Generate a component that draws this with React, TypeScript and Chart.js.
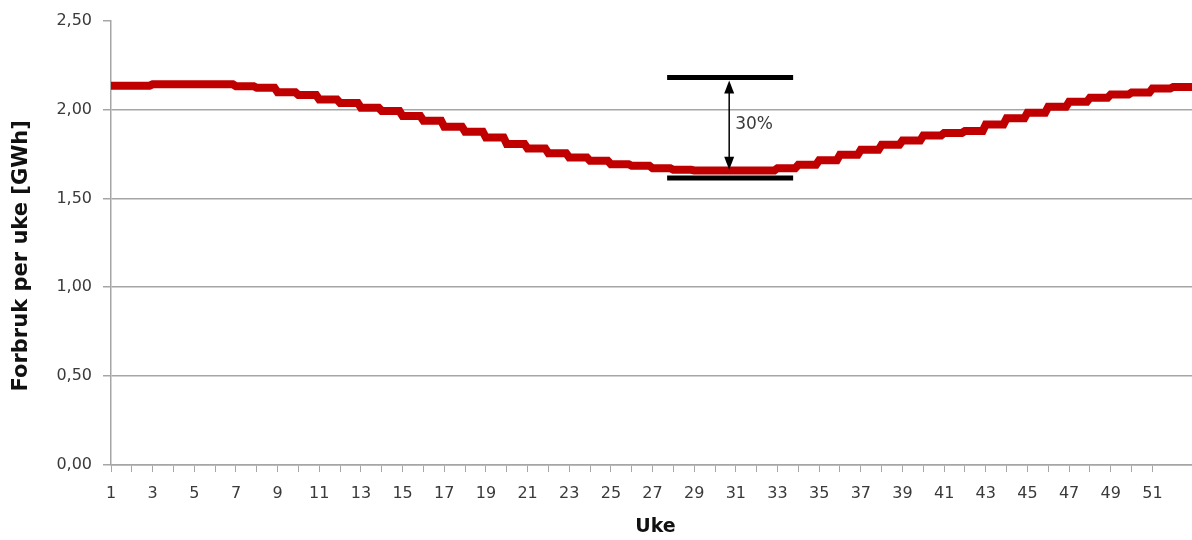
import React, { useEffect, useRef } from "react";
import { Chart, registerables } from "chart.js";

Chart.register(...registerables);

// Week numbers 1–52
const weeks = [
  1, 2, 3, 4, 5, 6, 7, 8, 9, 10, 11, 12, 13, 14, 15, 16, 17, 18, 19, 20, 21, 22, 23, 24, 25, 26,
  27, 28, 29, 30, 31, 32, 33, 34, 35, 36, 37, 38, 39, 40, 41, 42, 43, 44, 45, 46, 47, 48, 49, 50,
  51, 52,
];

// Weekly consumption [GWh]
const consumption = [
  2.134, 2.134, 2.142, 2.142, 2.142, 2.142, 2.131, 2.122, 2.097, 2.081,
  2.056, 2.037, 2.01, 1.991, 1.963, 1.937, 1.903, 1.875, 1.842, 1.806,
  1.78, 1.754, 1.73, 1.711, 1.692, 1.683, 1.67, 1.661, 1.657, 1.657,
  1.657, 1.657, 1.67, 1.689, 1.714, 1.745, 1.773, 1.801, 1.825, 1.853,
  1.868, 1.879, 1.916, 1.95, 1.982, 2.015, 2.043, 2.066, 2.084, 2.095,
  2.118, 2.127,
];

const xTitle = "Uke";
const yTitle = "Forbruk per uke [GWh]";

// Span marker: upper/lower bars, arrow and label
const spanTop = 2.18;
const spanBottom = 1.615;
const spanFromWeek = 27.7;
const spanToWeek = 33.75;
const arrowWeek = 30.68;
const arrowLow = 1.661;
const spanLabel = "30%";

const FONT = "'DejaVu Sans', Verdana, sans-serif";
const LINE_COLOR = "#C00000";
const GRID_COLOR = "#A6A6A6";
const TEXT_COLOR = "#3a3a3a";
const TITLE_COLOR = "#111";

// Each week is held flat for most of its width, then steps to the next week
const HOLD = 0.85;
const points = weeks.flatMap((w, i) => [
  { x: w, y: consumption[i] },
  { x: w + (i === weeks.length - 1 ? 1 : HOLD), y: consumption[i] },
]);

const spanPlugin = {
  id: "spanMarker",
  afterDatasetsDraw(chart: any) {
    const { ctx, scales } = chart;
    const x = scales.x;
    const y = scales.y;
    const x0 = x.getPixelForValue(spanFromWeek);
    const x1 = x.getPixelForValue(spanToWeek);
    const yTop = y.getPixelForValue(spanTop);
    const yBot = y.getPixelForValue(spanBottom);
    const ax = x.getPixelForValue(arrowWeek);
    const yLow = y.getPixelForValue(arrowLow);

    ctx.save();
    ctx.strokeStyle = "#000";
    ctx.lineWidth = 5;
    ctx.lineCap = "butt";
    ctx.beginPath();
    ctx.moveTo(x0, yTop);
    ctx.lineTo(x1, yTop);
    ctx.moveTo(x0, yBot);
    ctx.lineTo(x1, yBot);
    ctx.stroke();

    // double-headed arrow
    const tipTop = yTop + 3;
    const tipBot = yLow;
    const head = 13;
    const half = 5;
    ctx.lineWidth = 1.5;
    ctx.beginPath();
    ctx.moveTo(ax, tipTop + head - 1);
    ctx.lineTo(ax, tipBot - head + 1);
    ctx.stroke();
    ctx.fillStyle = "#000";
    ctx.beginPath();
    ctx.moveTo(ax, tipTop);
    ctx.lineTo(ax - half, tipTop + head);
    ctx.lineTo(ax + half, tipTop + head);
    ctx.closePath();
    ctx.fill();
    ctx.beginPath();
    ctx.moveTo(ax, tipBot);
    ctx.lineTo(ax - half, tipBot - head);
    ctx.lineTo(ax + half, tipBot - head);
    ctx.closePath();
    ctx.fill();

    ctx.fillStyle = TEXT_COLOR;
    ctx.font = `17px ${FONT}`;
    ctx.textAlign = "left";
    ctx.textBaseline = "middle";
    ctx.fillText(spanLabel, ax + 6, (yTop + yLow) / 2 + 1);
    ctx.restore();
  },
};

// Axis titles, placed like the spreadsheet layout
const titlePlugin = {
  id: "axisTitles",
  afterDraw(chart: any) {
    const { ctx, chartArea } = chart;
    ctx.save();
    ctx.fillStyle = TITLE_COLOR;
    ctx.textAlign = "center";
    ctx.textBaseline = "middle";
    ctx.font = `bold 19px ${FONT}`;
    ctx.fillText(xTitle, (chartArea.left + chartArea.right) / 2 + 4, 527);
    ctx.translate(22, (chartArea.top + chartArea.bottom) / 2 + 13);
    ctx.rotate(-Math.PI / 2);
    ctx.font = `bold 21px ${FONT}`;
    ctx.fillText(yTitle, 0, 0);
    ctx.restore();
  },
};

export default function App() {
  const canvasRef = useRef<HTMLCanvasElement | null>(null);

  useEffect(() => {
    const canvas = canvasRef.current;
    if (!canvas) return;
    const chart = new Chart(canvas, {
      type: "line",
      data: {
        datasets: [
          {
            data: points,
            borderColor: LINE_COLOR,
            borderWidth: 8,
            pointRadius: 0,
            tension: 0,
            fill: false,
            borderJoinStyle: "miter",
          },
        ],
      },
      options: {
        animation: false,
        responsive: false,
        parsing: false,
        layout: { padding: { top: 18, right: 0, left: 0, bottom: 0 } },
        plugins: { legend: { display: false }, tooltip: { enabled: false } },
        scales: {
          x: {
            type: "linear",
            min: 1,
            max: 52.9,
            afterBuildTicks: (scale: any) => {
              scale.ticks = scale.ticks.filter((t: any) => Number.isInteger(t.value));
            },
            afterFit: (scale: any) => {
              scale.height = 75;
            },
            ticks: {
              stepSize: 1,
              autoSkip: false,
              maxRotation: 0,
              padding: 12,
              color: TEXT_COLOR,
              font: { family: FONT, size: 16 },
              callback: (v: any) => (Number(v) % 2 === 1 ? String(v) : ""),
            },
            grid: {
              drawOnChartArea: false,
              drawTicks: true,
              tickLength: 7,
              tickColor: GRID_COLOR,
              color: GRID_COLOR,
            },
            border: { color: GRID_COLOR, width: 1.5 },
            title: { display: false },
          },
          y: {
            min: 0,
            max: 2.5,
            afterFit: (scale: any) => {
              scale.width = 111;
            },
            ticks: {
              stepSize: 0.5,
              padding: 11,
              color: TEXT_COLOR,
              font: { family: FONT, size: 16 },
              callback: (v: any) => Number(v).toFixed(2).replace(".", ","),
            },
            grid: {
              color: (c: any) => (c.tick && c.tick.value === 2.5 ? "rgba(0,0,0,0)" : GRID_COLOR),
              tickColor: GRID_COLOR,
              tickLength: 8,
              lineWidth: 1.5,
            },
            border: { color: GRID_COLOR, width: 1.5 },
            title: { display: false },
          },
        },
      },
      plugins: [spanPlugin, titlePlugin],
    });
    return () => chart.destroy();
  }, []);

  return (
    <div style={{ position: "absolute", left: 0, top: 0, width: 1192, height: 540, background: "#fff" }}>
      <canvas ref={canvasRef} width={1192} height={540} style={{ width: 1192, height: 540, display: "block" }} />
    </div>
  );
}
